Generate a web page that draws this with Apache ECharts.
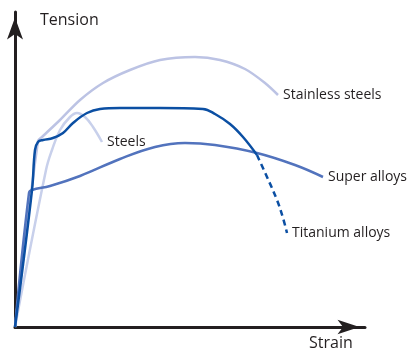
<!DOCTYPE html>
<html>
<head>
<meta charset="utf-8">
<script src="https://cdn.jsdelivr.net/npm/echarts@6/dist/echarts.min.js"></script>
<style>
  html, body { margin: 0; padding: 0; background: #fff; }
  #chart { width: 409px; height: 355px; }
</style>
</head>
<body>
<div id="chart"></div>
<script>
// curve points: [strain, tension] in axis units
var stainless = [[0,0],[23,186],[27,190],[45,207],[65,227],[88,244],[115,257],[145,267],[180,270],[205,267],[230,258],[250,244],[263,232]];
var steels = [[0,0],[31,157],[37,177],[45,197],[55,210],[62,214],[70,210],[78,200],[87,185]];
var titanium = [[0,0],[17,137],[20,177],[23,185],[28,187],[38,189],[48,194],[58,204],[72,214],[85,218],[105,219],[145,219],[188,218],[200,213],[215,203],[228,190],[242,172]];
var titaniumBreak = [[242,172],[252,150],[262,127],[268,109],[272,94]];
var superAlloys = [[0,0],[14,134],[17,137],[35,141],[65,151],[105,168],[140,180],[170,184],[200,182],[242,174],[280,162],[308,150]];

var font = '"Open Sans", sans-serif';
var chart = echarts.init(document.getElementById('chart'));

function curve(name, data, color, label, dashed, smooth) {
  return {
    name: name,
    type: 'line',
    data: data,
    smooth: smooth || 0.4,
    symbol: 'none',
    lineStyle: { color: color, width: 2.5, type: dashed ? [6, 4] : 'solid' },
    endLabel: {
      show: !!label,
      formatter: label || '',
      color: '#231f20',
      fontSize: 14,
      fontFamily: font,
      distance: 5
    },
    animation: false
  };
}

var option = {
  animation: false,
  grid: { left: 15, right: 44, top: 12, bottom: 28 },
  xAxis: {
    type: 'value', min: 0, max: 350,
    axisLine: { show: true, symbol: ['none', 'arrow'], symbolSize: [11, 22], symbolOffset: [0, -5.5], lineStyle: { color: '#231f20', width: 3 } },
    axisTick: { show: false }, axisLabel: { show: false }, splitLine: { show: false }
  },
  yAxis: {
    type: 'value', min: 0, max: 315,
    axisLine: { show: true, symbol: ['none', 'arrow'], symbolSize: [12, 22], symbolOffset: [0, -5.5], lineStyle: { color: '#231f20', width: 3 } },
    axisTick: { show: false }, axisLabel: { show: false }, splitLine: { show: false }
  },
  graphic: [
    { type: 'text', left: 40, top: 12, style: { text: 'Tension', fontSize: 16, fontFamily: font, fill: '#231f20' } },
    { type: 'text', left: 309, top: 335, style: { text: 'Strain', fontSize: 16, fontFamily: font, fill: '#231f20' } }
  ],
  series: [
    curve('Stainless steels', stainless, '#bcc3e4', 'Stainless steels', false, 0.3),
    curve('Steels', steels, '#c8d0eb', 'Steels'),
    curve('Super alloys', superAlloys, '#5273bd', 'Super alloys'),
    curve('Titanium', titanium, '#0b4fa3', null),
    curve('Titanium alloys', titaniumBreak, '#0b4fa3', 'Titanium alloys', true)
  ]
};
chart.setOption(option);
</script>
</body>
</html>
